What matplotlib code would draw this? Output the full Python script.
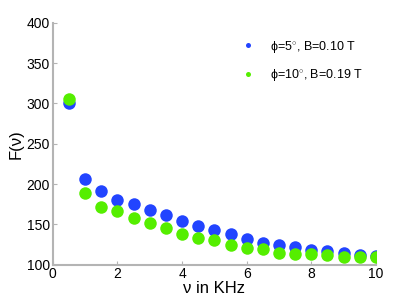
import matplotlib
matplotlib.use("Agg")
from matplotlib import pyplot as plt

plt.rcParams['font.family'] = ['Liberation Sans', 'DejaVu Sans']
plt.rcParams['mathtext.fontset'] = 'custom'
plt.rcParams['mathtext.rm'] = 'Liberation Sans'

# frecuencias (KHz)
freq = [0.5, 1, 1.5, 2, 2.5, 3, 3.5, 4, 4.5, 5, 5.5, 6, 6.5, 7, 7.5, 8, 8.5, 9, 9.5, 10]

# phi = 5 grados, B = 0.10 T
f_blue = [301, 206, 191, 180, 175, 167.5, 161, 154, 148, 143, 138.5, 131.5,
          127, 124, 122, 118.5, 116.5, 115, 112.5, 111]
# phi = 10 grados, B = 0.19 T
f_green = [305, 189, 171.5, 166, 158, 151, 145, 138, 133, 130, 124, 120,
           119, 115, 113, 113, 112, 110, 109, 109.5]

labels = ['\u03d5=5$^{\\circ}$, B=0.10 T', '\u03d5=10$^{\\circ}$, B=0.19 T']

fig = plt.figure(figsize=(4.15, 3.0), dpi=100)
ax = fig.add_axes([0.127, 0.118, 0.779, 0.806])

ax.plot(freq, f_blue, 'o', color='#2244ff', markersize=9, markeredgewidth=0,
        label=labels[0])
ax.plot(freq, f_green, 'o', color='#55ee00', markersize=9, markeredgewidth=0,
        label=labels[1])

ax.set_xlim(0, 10)
ax.set_ylim(100, 400)
ax.set_xticks([0, 2, 4, 6, 8, 10])
ax.set_yticks([100, 150, 200, 250, 300, 350, 400])
ax.set_xlabel('\u03bd in KHz', fontsize=12, labelpad=0)
ax.set_ylabel('F(\u03bd)', fontsize=12, labelpad=2)

for s in ['top', 'right']:
    ax.spines[s].set_visible(False)
for s in ['left', 'bottom']:
    ax.spines[s].set_color('#b4b4b4')
    ax.spines[s].set_linewidth(1.5)
ax.tick_params(direction='in', length=3, color='#b4b4b4', labelsize=10, pad=2)

ax.legend(loc='upper right', frameon=False, markerscale=0.4, fontsize=9,
          handletextpad=0.9, handlelength=1.6, borderaxespad=0.3,
          labelspacing=1.0, bbox_to_anchor=(0.985, 0.97))

fig.savefig('out.png', dpi=100)
